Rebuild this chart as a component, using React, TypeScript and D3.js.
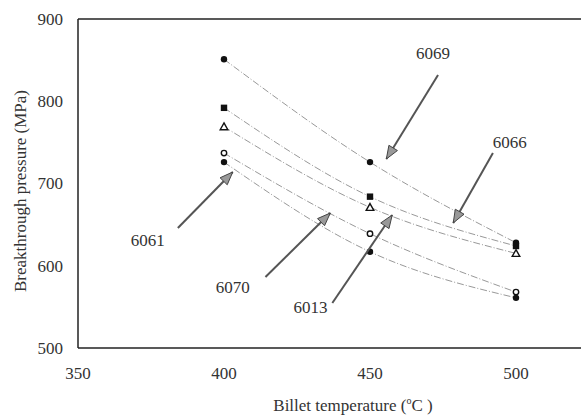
import React from "react";
import * as d3 from "d3";

const temperatures = [400, 450, 500];
const series6069 = [851, 726, 628];
const seriesSquare = [792, 684, 624];
const seriesTriangle = [769, 671, 615];
const seriesOpenCircle = [737, 639, 568];
const seriesLowDot = [726, 617, 561];
const xTicks = [350, 400, 450, 500];
const yTicks = [500, 600, 700, 800, 900];

const seriesList = [
  { name: "s1", values: series6069, marker: "dot" },
  { name: "s2", values: seriesSquare, marker: "square" },
  { name: "s3", values: seriesTriangle, marker: "triangle" },
  { name: "s4", values: seriesOpenCircle, marker: "ocircle" },
  { name: "s5", values: seriesLowDot, marker: "dot" },
];

const annotationLabels = ["6069", "6066", "6061", "6070", "6013"];
const annotationText = [[471.6, 858.7], [497.9, 750.5], [373.9, 631.3], [403, 574.2], [429.6, 549.8]];
const annotationTail = [[473.3, 831.9], [492.1, 737], [384.2, 645.9], [414.2, 586.3], [437.1, 554.7]];
const annotationTip = [[455.6, 729.8], [478.5, 652], [403, 714], [436.4, 664.1], [457.6, 661.7]];

export default function App() {
  const W = 581, H = 416;
  const x = d3.scaleLinear().domain([350, 500]).range([78, 516]);
  const y = d3.scaleLinear().domain([500, 900]).range([348, 19]);
  const line = d3
    .line<number>()
    .x((_, i) => x(temperatures[i]))
    .y((v) => y(v))
    .curve(d3.curveNatural);
  const font = "'Liberation Serif', 'DejaVu Serif', serif";
  const right = x(560);

  const drawMarker = (m: string, cx: number, cy: number, key: string) => {
    if (m === "dot") return <circle key={key} cx={cx} cy={cy} r={3.2} fill="#111" />;
    if (m === "square") return <rect key={key} x={cx - 3.2} y={cy - 3.2} width={6.4} height={6.4} fill="#111" />;
    if (m === "triangle")
      return (
        <path key={key} d={`M${cx},${cy - 3.8} L${cx + 3.8},${cy + 3} L${cx - 3.8},${cy + 3} Z`} fill="white" stroke="#111" strokeWidth={1.4} />
      );
    return <circle key={key} cx={cx} cy={cy} r={2.7} fill="white" stroke="#111" strokeWidth={1.4} />;
  };

  const arrowHead = (tx: number, ty: number, sx: number, sy: number) => {
    const ang = Math.atan2(ty - sy, tx - sx);
    const L = 13, Wd = 5;
    const bx = tx - L * Math.cos(ang), by = ty - L * Math.sin(ang);
    const px = -Math.sin(ang) * Wd, py = Math.cos(ang) * Wd;
    return `M${tx},${ty} L${bx + px},${by + py} L${bx - px},${by - py} Z`;
  };

  return (
    <svg width={W} height={H} style={{ position: "absolute", left: 0, top: 0, background: "white" }}>
      <line x1={78} y1={19} x2={right} y2={19} stroke="#222" strokeWidth={1.5} />
      <line x1={78} y1={348} x2={right} y2={348} stroke="#222" strokeWidth={1.5} />
      <line x1={78} y1={19} x2={78} y2={348} stroke="#222" strokeWidth={1.5} />

      {yTicks.map((t) => (
        <text key={"y" + t} x={63} y={y(t)} dy="0.35em" textAnchor="end" fontFamily={font} fontSize={17} fill="#333">
          {t}
        </text>
      ))}
      {xTicks.map((t) => (
        <text key={"x" + t} x={x(t)} y={379} textAnchor="middle" fontFamily={font} fontSize={17} fill="#333">
          {t}
        </text>
      ))}

      <text x={353} y={411} textAnchor="middle" fontFamily={font} fontSize={17} fill="#333">
        Billet temperature (<tspan fontSize={10} dy={-7}>o</tspan><tspan dy={7}>C )</tspan>
      </text>
      <text transform={`translate(26,${191}) rotate(-90)`} textAnchor="middle" fontFamily={font} fontSize={17} fill="#333">
        Breakthrough pressure (MPa)
      </text>

      {seriesList.map((s) => (
        <path key={s.name} d={line(s.values) || ""} fill="none" stroke="#999" strokeWidth={1} strokeDasharray="7,2,1,2" />
      ))}
      {seriesList.map((s) =>
        s.values.map((v, i) => drawMarker(s.marker, x(temperatures[i]), y(v), s.name + i))
      )}

      {annotationLabels.map((lab, i) => {
        const sx = x(annotationTail[i][0]), sy = y(annotationTail[i][1]);
        const tx = x(annotationTip[i][0]), ty = y(annotationTip[i][1]);
        return (
          <g key={lab}>
            <line x1={sx} y1={sy} x2={tx} y2={ty} stroke="#555" strokeWidth={2} />
            <path d={arrowHead(tx, ty, sx, sy)} fill="#999" stroke="#444" strokeWidth={1} />
            <text x={x(annotationText[i][0])} y={y(annotationText[i][1])} dy="0.35em" textAnchor="middle" fontFamily={font} fontSize={17} fill="#333">
              {lab}
            </text>
          </g>
        );
      })}
    </svg>
  );
}
